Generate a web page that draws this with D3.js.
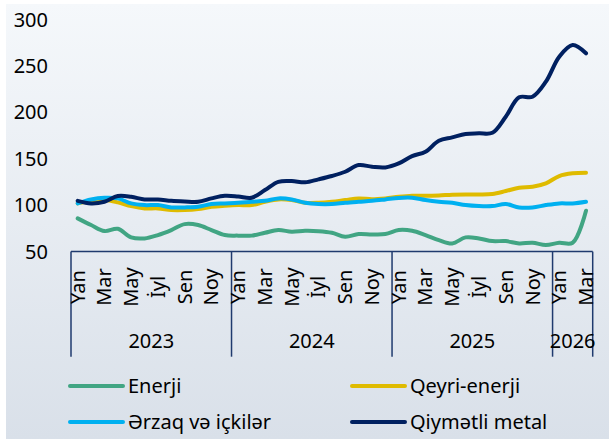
<!DOCTYPE html>
<html>
<head>
<meta charset="utf-8">
<script src="https://cdn.jsdelivr.net/npm/d3@7"></script>
<style>
  body { margin: 0; background: #fff; }
  svg { display: block; font-family: "Noto Sans", sans-serif; }
</style>
</head>
<body>
<div id="app"></div>
<script>
// monthly data, Jan 2023 - Mar 2026
const monthNames = ["Yan", "Fev", "Mar", "Apr", "May", "İyn", "İyl", "Avq", "Sen", "Okt", "Noy", "Dek"];
const years = ["2023", "2024", "2025", "2026"];
const yTicks = [50, 100, 150, 200, 250, 300];

const enerji = [85.8, 78.6, 72.1, 74.6, 65.3, 64.2, 67.8, 73.2, 79.6, 78.6, 73.2, 67.8,
  67.2, 67.2, 70.3, 73.2, 71.4, 72.4, 72.0, 70.3, 66.0, 68.9, 68.5, 68.9,
  73.2, 72.4, 67.8, 62.4, 58.8, 65.3, 64.2, 61.3, 61.3, 58.8, 59.5, 57.0, 59.5, 59.5, 94.0];
const qeyriEnerji = [101.9, 104.5, 105.5, 103.0, 99.0, 96.5, 96.5, 94.7, 94.7, 95.8, 98.3, 99.4,
  100.1, 100.1, 103.7, 106.2, 105.5, 102.6, 102.6, 103.7, 105.5, 107.3, 106.5, 107.3,
  109.0, 110.1, 110.1, 110.5, 111.2, 111.5, 111.5, 112.0, 115.2, 118.8, 119.8, 123.5, 131.4, 134.3, 134.9];
const erzaq = [101.9, 106.2, 108.0, 107.3, 101.9, 100.1, 100.1, 97.6, 97.6, 98.3, 101.2, 101.9,
  102.6, 103.7, 104.7, 107.3, 106.2, 102.6, 101.2, 101.2, 102.6, 103.7, 104.7, 106.2,
  107.8, 108.0, 105.5, 103.7, 102.6, 100.1, 99.0, 99.0, 101.2, 97.6, 97.6, 100.1, 101.9, 101.9, 103.7];
const metal = [104.7, 101.9, 103.7, 109.8, 109.0, 106.2, 106.2, 104.7, 104.0, 103.7, 107.3, 110.1,
  109.4, 108.0, 116.3, 125.2, 126.0, 124.6, 127.8, 131.4, 136.0, 143.2, 141.4, 140.7,
  145.0, 152.9, 157.5, 169.4, 173.0, 176.6, 177.4, 178.0, 195.3, 216.2, 216.8, 233.0, 259.9, 272.5, 263.6];

const series = [
  { name: "Enerji", values: enerji, color: "#41a583" },
  { name: "Qeyri-enerji", values: qeyriEnerji, color: "#dfbb00" },
  { name: "Ərzaq və içkilər", values: erzaq, color: "#00b0f0" },
  { name: "Qiymətli metal", values: metal, color: "#002060" }
];

const w = 609;
const h = 439;
const months = d3.range(enerji.length);

const svg = d3.select("#app").append("svg").attr("width", w).attr("height", h);

// background gradient
const grad = svg.append("defs").append("linearGradient")
  .attr("id", "bg").attr("x1", 0).attr("y1", 0).attr("x2", 0).attr("y2", 1);
grad.append("stop").attr("offset", "0%").attr("stop-color", "#f5f8fb");
grad.append("stop").attr("offset", "100%").attr("stop-color", "#d9e0e9");
svg.append("rect").attr("x", 6).attr("y", 4).attr("width", w - 6).attr("height", h - 4)
  .attr("fill", "url(#bg)");

const xScale = d3.scaleBand().domain(months).range([71, 592.7]).padding(0);
const yScale = d3.scaleLinear().domain([50, 300]).range([251.6, 19.5]);
const cx = (i) => xScale(i) + xScale.bandwidth() / 2;

// y labels
svg.append("g")
  .selectAll("text")
  .data(yTicks)
  .join("text")
  .attr("x", 48)
  .attr("y", (d) => yScale(d))
  .attr("dy", "0.35em")
  .attr("text-anchor", "end")
  .attr("font-size", 20)
  .attr("fill", "#000")
  .text((d) => d);

// x axis: baseline + year separators
const axisColor = "#1f3a6e";
const axisY = yScale(50);
const axisBottom = 356.7;
svg.append("line")
  .attr("x1", xScale(0)).attr("x2", xScale.range()[1])
  .attr("y1", axisY).attr("y2", axisY)
  .attr("stroke", axisColor).attr("stroke-width", 1.5);

const sepIdx = [0, 12, 24, 36];
const sepX = sepIdx.map((i) => xScale(i)).concat([xScale.range()[1]]);
svg.append("g")
  .selectAll("line")
  .data(sepX)
  .join("line")
  .attr("x1", (d) => d).attr("x2", (d) => d)
  .attr("y1", axisY).attr("y2", axisBottom)
  .attr("stroke", axisColor).attr("stroke-width", 1.5);

// month labels (every other month)
svg.append("g")
  .selectAll("text")
  .data(months.filter((i) => i % 2 === 0))
  .join("text")
  .attr("transform", (i) => `translate(${cx(i)},287) rotate(-90)`)
  .attr("dy", "0.35em")
  .attr("text-anchor", "middle")
  .attr("font-size", 20)
  .attr("fill", "#000")
  .text((i) => monthNames[i % 12]);

// year labels
svg.append("g")
  .selectAll("text")
  .data(years)
  .join("text")
  .attr("x", (d, k) => (sepX[k] + sepX[k + 1]) / 2)
  .attr("y", 341)
  .attr("dy", "0.35em")
  .attr("text-anchor", "middle")
  .attr("font-size", 20)
  .attr("fill", "#000")
  .text((d) => d);

// lines
const line = d3.line()
  .x((d, i) => cx(i))
  .y((d) => yScale(d))
  .curve(d3.curveCatmullRom.alpha(0.5));

svg.append("g")
  .selectAll("path")
  .data(series)
  .join("path")
  .attr("d", (d) => line(d.values))
  .attr("fill", "none")
  .attr("stroke", (d) => d.color)
  .attr("stroke-width", 4)
  .attr("stroke-linecap", "round")
  .attr("stroke-linejoin", "round");

// legend
const legendPos = [
  { x: 70, y: 386 }, { x: 352, y: 386 },
  { x: 70, y: 422 }, { x: 352, y: 422 }
];
const legend = svg.append("g")
  .selectAll("g")
  .data(series)
  .join("g")
  .attr("transform", (d, i) => `translate(${legendPos[i].x},${legendPos[i].y})`);
legend.append("line")
  .attr("x1", 0).attr("x2", 53)
  .attr("stroke", (d) => d.color)
  .attr("stroke-width", 4)
  .attr("stroke-linecap", "round");
legend.append("text")
  .attr("x", 58)
  .attr("dy", "0.35em")
  .attr("font-size", 20)
  .attr("fill", "#000")
  .text((d) => d.name);
</script>
</body>
</html>
